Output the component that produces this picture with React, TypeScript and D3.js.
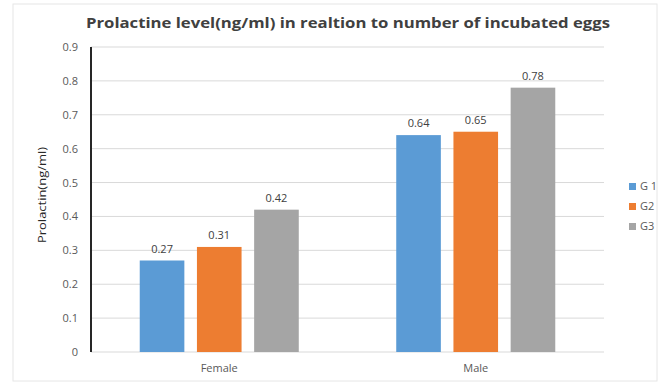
import React from "react";
import * as d3 from "d3";

const categories = ["Female", "Male"];
const seriesNames = ["G 1", "G2", "G3"];
const g1 = [0.27, 0.64];
const g2 = [0.31, 0.65];
const g3 = [0.42, 0.78];
const yTicks = [0, 0.1, 0.2, 0.3, 0.4, 0.5, 0.6, 0.7, 0.8, 0.9];
const colors = ["#5B9BD5", "#ED7D31", "#A5A5A5"];

export default function App() {
  const W = 661, H = 382;
  const left = 91, right = 604, top = 47, bottom = 352;
  const series = [g1, g2, g3];
  const x0 = d3.scaleBand().domain(categories).range([left, right]).paddingInner(0.38).paddingOuter(0.19);
  const x1 = d3.scaleBand().domain(seriesNames).range([0, x0.bandwidth()]).paddingInner(0.22);
  const y = d3.scaleLinear().domain([0, 0.9]).range([bottom, top]);
  const font = "Open Sans, Liberation Sans, sans-serif";
  return (
    <svg width={W} height={H} style={{ position: "absolute", left: 0, top: 0, background: "#fff" }}>
      <rect x={13} y={4} width={644} height={377} fill="#fff" stroke="#e6e6e6" strokeWidth={1} />
      <text x={348} y={28} textAnchor="middle" fontFamily={font} fontWeight="bold" fontSize={15} fill="#404040" textLength={524} lengthAdjust="spacingAndGlyphs">
        Prolactine level(ng/ml) in realtion to number of incubated eggs
      </text>
      {yTicks.map((t) => (
        <g key={t}>
          <line x1={left} x2={right} y1={y(t)} y2={y(t)} stroke="#d9d9d9" strokeWidth={1} />
          <text x={78} y={y(t) + 4} textAnchor="end" fontFamily={font} fontSize={11} fill="#595959">
            {String(t)}
          </text>
        </g>
      ))}
      <line x1={left} x2={left} y1={top} y2={bottom} stroke="#262626" strokeWidth={2} />
      <text transform={`translate(46,${195}) rotate(-90)`} textAnchor="middle" fontFamily={font} fontSize={11} fill="#262626" textLength={96} lengthAdjust="spacingAndGlyphs">
        Prolactin(ng/ml)
      </text>
      {categories.map((c, ci) => (
        <g key={c}>
          {series.map((s, si) => {
            const bx = (x0(c) as number) + (x1(seriesNames[si]) as number);
            return (
              <g key={si}>
                <rect x={bx} y={y(s[ci])} width={x1.bandwidth()} height={bottom - y(s[ci])} fill={colors[si]} />
                <text x={bx + x1.bandwidth() / 2} y={y(s[ci]) - 8} textAnchor="middle" fontFamily={font} fontSize={11} fill="#404040">
                  {s[ci].toFixed(2)}
                </text>
              </g>
            );
          })}
          <text x={(x0(c) as number) + x0.bandwidth() / 2} y={372} textAnchor="middle" fontFamily={font} fontSize={11} fill="#595959">
            {c}
          </text>
        </g>
      ))}
      {seriesNames.map((n, i) => (
        <g key={n}>
          <rect x={629} y={183 + i * 20} width={7} height={7} fill={colors[i]} />
          <text x={640} y={190 + i * 20} fontFamily={font} fontSize={11} fill="#595959">
            {n}
          </text>
        </g>
      ))}
    </svg>
  );
}
